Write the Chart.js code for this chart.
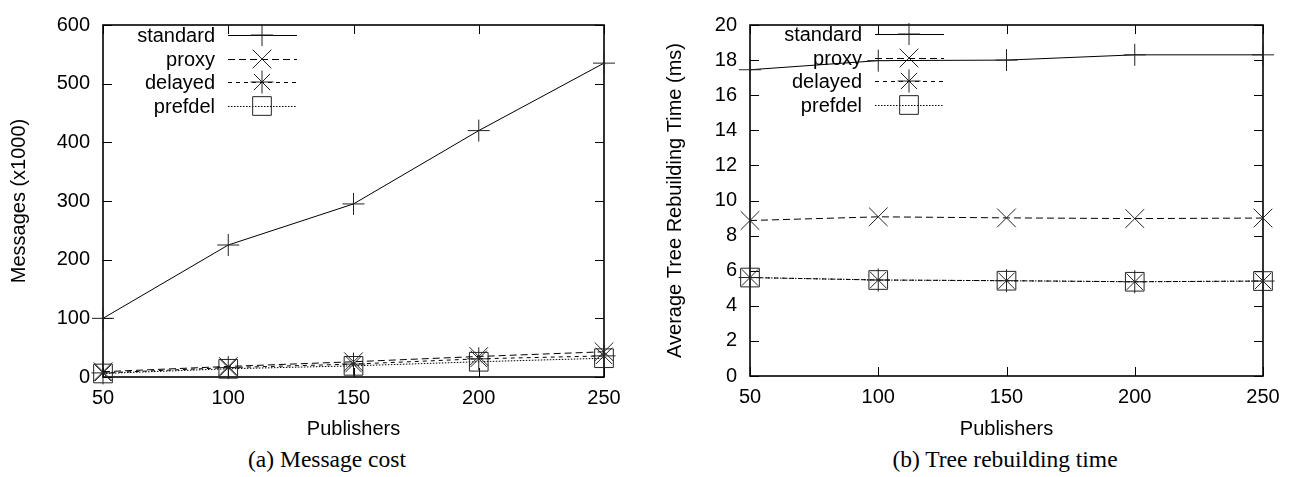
<!DOCTYPE html>
<html>
<head>
<meta charset="utf-8">
<script src="https://cdn.jsdelivr.net/npm/chart.js@4.4.0/dist/chart.umd.min.js"></script>
<style>
  html,body{margin:0;padding:0;background:#fff;}
  #wrap{position:relative;width:1302px;height:477px;overflow:hidden;}
  canvas{position:absolute;top:0;}
  .cap{position:absolute;top:446px;font-family:'Liberation Serif','Times New Roman',serif;font-size:23.5px;text-align:center;color:#000;line-height:26px;}
</style>
</head>
<body>
<div id="wrap">
  <canvas id="cost" width="651" height="441" style="left:0"></canvas>
  <canvas id="rebuild" width="651" height="441" style="left:651px"></canvas>
  <div class="cap" style="left:0;width:654px">(a) Message cost</div>
  <div class="cap" style="left:750px;width:510px">(b) Tree rebuilding time</div>
</div>
<script>
/* ── data ── */
const publishers=[50,100,150,200,250];
const seriesNames=['standard','proxy','delayed','prefdel'];

// (a) message cost, x1000 messages
const costStandard=[100,225,295,420,535];
const costProxy=[9,18,26,35,43];
const costDelayed=[7,16,22,31,36];
const costPrefdel=[6,14,19,26,32];

// (b) avg tree rebuilding time, ms
const timeStandard=[17.45,17.97,18.0,18.3,18.3];
const timeProxy=[8.86,9.07,9.01,8.97,9.0];
const timeDelayed=[5.61,5.47,5.43,5.37,5.41];
const timePrefdel=[5.61,5.47,5.43,5.37,5.41];

const xTicks=[50,100,150,200,250];

/* ── look ── */
Chart.defaults.font.family="'Liberation Sans',Arial,Helvetica,sans-serif";
Chart.defaults.font.size=20;
Chart.defaults.color='#000';

const STYLES=[
  {pointStyle:'cross',pointRadius:11,borderDash:[]},
  {pointStyle:'crossRot',pointRadius:13.2,borderDash:[7,4]},
  {pointStyle:'star',pointRadius:11.5,borderDash:[4,4]},
  {pointStyle:'rect',pointRadius:13.2,borderDash:[1.5,1.5]}
];

function mkSets(vals){
  return vals.map((v,i)=>({
    label:seriesNames[i],
    data:publishers.map((p,j)=>({x:p,y:v[j]})),
    borderColor:'#000',borderWidth:1,borderDash:STYLES[i].borderDash,
    pointStyle:STYLES[i].pointStyle,pointRadius:STYLES[i].pointRadius,
    pointBorderColor:'#222',pointBackgroundColor:'rgba(0,0,0,0)',pointBorderWidth:1,
    pointHoverRadius:STYLES[i].pointRadius,
    tension:0,clip:false,fill:false
  }));
}

// frame + inward ticks on all four sides (gnuplot look), plus the key
const framePlugin={
  id:'frame',
  beforeDatasetsDraw(chart){
    const {ctx,chartArea:{left,right,top,bottom},scales:{x,y}}=chart;
    const tl=9;
    ctx.save();
    ctx.strokeStyle='#000';ctx.lineWidth=1;ctx.setLineDash([]);
    ctx.beginPath();
    x.ticks.forEach(t=>{
      const px=Math.round(x.getPixelForValue(t.value))+0.5;
      ctx.moveTo(px,bottom);ctx.lineTo(px,bottom-tl);
      ctx.moveTo(px,top);ctx.lineTo(px,top+tl);
    });
    y.ticks.forEach(t=>{
      const py=Math.round(y.getPixelForValue(t.value))+0.5;
      ctx.moveTo(left,py);ctx.lineTo(left+tl,py);
      ctx.moveTo(right,py);ctx.lineTo(right-tl,py);
    });
    ctx.stroke();
    ctx.lineWidth=1.6;
    ctx.strokeRect(left,top,right-left,bottom-top);
    // key
    const ks=chart.options.plugins.key;
    ctx.font="20px 'Liberation Sans',Arial,sans-serif";
    ctx.textAlign='right';ctx.textBaseline='middle';
    chart.data.datasets.forEach((ds,i)=>{
      const ky=ks.rows[i];
      ctx.fillStyle='#000';
      ctx.fillText(ds.label,left+112,ky+1);
      ctx.lineWidth=1;ctx.strokeStyle='#000';ctx.setLineDash(ds.borderDash);
      ctx.beginPath();ctx.moveTo(left+125,ky+0.5);ctx.lineTo(left+194,ky+0.5);ctx.stroke();
      ctx.setLineDash([]);ctx.strokeStyle='#222';ctx.fillStyle='rgba(0,0,0,0)';
      Chart.helpers.drawPoint(ctx,{pointStyle:ds.pointStyle,radius:ds.pointRadius,borderWidth:1},left+159,ky);
    });
    ctx.restore();
  }
};

function mkChart(id,vals,yMax,yStep,yTitle,box){
  return new Chart(document.getElementById(id),{
    type:'line',
    data:{datasets:mkSets(vals)},
    plugins:[framePlugin],
    options:{
      responsive:false,animation:false,
      layout:{padding:{top:box.top,right:box.right,left:0,bottom:0}},
      plugins:{legend:{display:false},tooltip:{enabled:false},key:{rows:box.rows}},
      scales:{
        x:{type:'linear',min:50,max:250,
          afterBuildTicks:s=>{s.ticks=xTicks.map(v=>({value:v}));},
          afterFit:s=>{s.height=box.xh;},
          grid:{display:false,drawTicks:false},border:{display:false},
          ticks:{padding:9,maxRotation:0},
          title:{display:true,text:'Publishers',padding:{top:0,bottom:0}}},
        y:{min:0,max:yMax,
          afterFit:s=>{s.width=box.yw;},
          grid:{display:false,drawTicks:false},border:{display:false},
          ticks:{stepSize:yStep,padding:13},
          title:{display:true,text:yTitle,padding:{top:box.tp,bottom:0}}}
      }
    }
  });
}

mkChart('cost',[costStandard,costProxy,costDelayed,costPrefdel],600,100,'Messages (x1000)',
  {top:14,right:47,yw:103,xh:64,tp:7,rows:[35,59,82,106]});
mkChart('rebuild',[timeStandard,timeProxy,timeDelayed,timePrefdel],20,2,'Average Tree Rebuilding Time (ms)',
  {top:15,right:39,yw:99,xh:65,tp:12,rows:[34,58,81,105]});
</script>
</body>
</html>
